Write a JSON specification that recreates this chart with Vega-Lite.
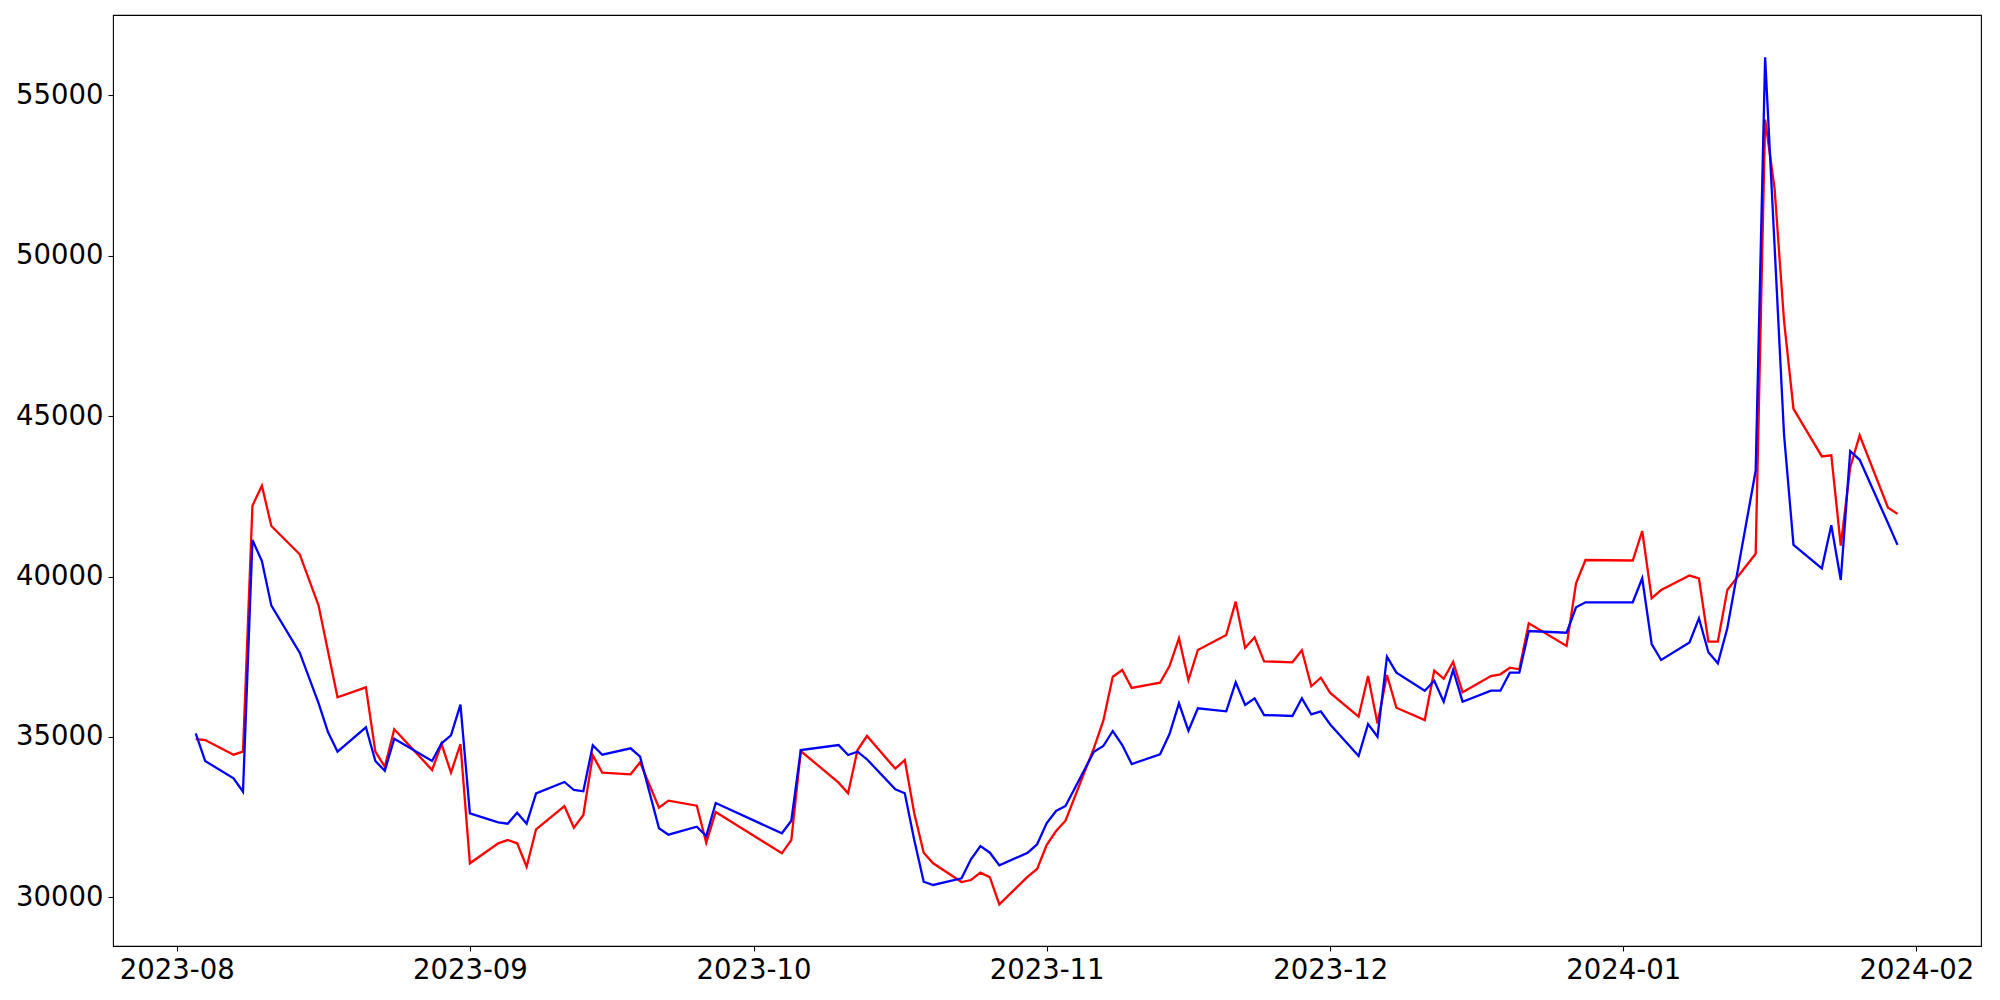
{
  "$schema": "https://vega.github.io/schema/vega-lite/v6.json",
  "width": 1868,
  "height": 931,
  "autosize": "none",
  "padding": {"left": 113, "top": 15, "right": 19, "bottom": 54},
  "background": "white",
  "config": {
    "font": "DejaVu Sans",
    "view": {"stroke": "black", "strokeWidth": 1.1},
    "axis": {"domain": false, "grid": false, "labelFont": "DejaVu Sans", "labelFontSize": 27.5, "labelColor": "black", "tickColor": "black", "tickSize": 5, "tickWidth": 1.1, "labelPadding": 5, "title": null}
  },
  "data": {"values": [
    {"date": "2023-08-03T00:00:00", "red": 34935, "blue": 35113},
    {"date": "2023-08-04T00:00:00", "red": 34904, "blue": 34249},
    {"date": "2023-08-07T00:00:00", "red": 34446, "blue": 33710},
    {"date": "2023-08-08T00:00:00", "red": 34539, "blue": 33292},
    {"date": "2023-08-09T00:00:00", "red": 42209, "blue": 41139},
    {"date": "2023-08-10T00:00:00", "red": 42832, "blue": 40484},
    {"date": "2023-08-11T00:00:00", "red": 41576, "blue": 39091},
    {"date": "2023-08-14T00:00:00", "red": 40693, "blue": 37626},
    {"date": "2023-08-16T00:00:00", "red": 39091, "blue": 36048},
    {"date": "2023-08-17T00:00:00", "red": 37657, "blue": 35144},
    {"date": "2023-08-18T00:00:00", "red": 36235, "blue": 34539},
    {"date": "2023-08-21T00:00:00", "red": 36547, "blue": 35300},
    {"date": "2023-08-22T00:00:00", "red": 34539, "blue": 34249},
    {"date": "2023-08-23T00:00:00", "red": 34072, "blue": 33947},
    {"date": "2023-08-24T00:00:00", "red": 35237, "blue": 34945},
    {"date": "2023-08-28T00:00:00", "red": 33969, "blue": 34249},
    {"date": "2023-08-29T00:00:00", "red": 34779, "blue": 34801},
    {"date": "2023-08-30T00:00:00", "red": 33885, "blue": 35050},
    {"date": "2023-08-31T00:00:00", "red": 34779, "blue": 36005},
    {"date": "2023-09-01T00:00:00", "red": 31060, "blue": 32619},
    {"date": "2023-09-04T00:00:00", "red": 31684, "blue": 32338},
    {"date": "2023-09-05T00:00:00", "red": 31786, "blue": 32295},
    {"date": "2023-09-06T00:00:00", "red": 31684, "blue": 32638},
    {"date": "2023-09-07T00:00:00", "red": 30954, "blue": 32295},
    {"date": "2023-09-08T00:00:00", "red": 32120, "blue": 33242},
    {"date": "2023-09-11T00:00:00", "red": 32846, "blue": 33595},
    {"date": "2023-09-12T00:00:00", "red": 32170, "blue": 33345},
    {"date": "2023-09-13T00:00:00", "red": 32566, "blue": 33305},
    {"date": "2023-09-14T00:00:00", "red": 34427, "blue": 34739},
    {"date": "2023-09-15T00:00:00", "red": 33885, "blue": 34446},
    {"date": "2023-09-18T00:00:00", "red": 33835, "blue": 34645},
    {"date": "2023-09-19T00:00:00", "red": 34209, "blue": 34383},
    {"date": "2023-09-21T00:00:00", "red": 32793, "blue": 32151},
    {"date": "2023-09-22T00:00:00", "red": 33012, "blue": 31952},
    {"date": "2023-09-25T00:00:00", "red": 32856, "blue": 32201},
    {"date": "2023-09-26T00:00:00", "red": 31702, "blue": 31911},
    {"date": "2023-09-27T00:00:00", "red": 32659, "blue": 32940},
    {"date": "2023-10-04T00:00:00", "red": 31372, "blue": 31995},
    {"date": "2023-10-05T00:00:00", "red": 31786, "blue": 32388},
    {"date": "2023-10-06T00:00:00", "red": 34561, "blue": 34592},
    {"date": "2023-10-10T00:00:00", "red": 33573, "blue": 34748},
    {"date": "2023-10-11T00:00:00", "red": 33242, "blue": 34436},
    {"date": "2023-10-12T00:00:00", "red": 34592, "blue": 34539},
    {"date": "2023-10-13T00:00:00", "red": 35029, "blue": 34302},
    {"date": "2023-10-16T00:00:00", "red": 34009, "blue": 33367},
    {"date": "2023-10-17T00:00:00", "red": 34280, "blue": 33242},
    {"date": "2023-10-18T00:00:00", "red": 32619, "blue": 31786},
    {"date": "2023-10-19T00:00:00", "red": 31391, "blue": 30486},
    {"date": "2023-10-20T00:00:00", "red": 31060, "blue": 30384},
    {"date": "2023-10-23T00:00:00", "red": 30477, "blue": 30592},
    {"date": "2023-10-24T00:00:00", "red": 30539, "blue": 31185},
    {"date": "2023-10-25T00:00:00", "red": 30767, "blue": 31599},
    {"date": "2023-10-26T00:00:00", "red": 30624, "blue": 31391},
    {"date": "2023-10-27T00:00:00", "red": 29781, "blue": 30997},
    {"date": "2023-10-30T00:00:00", "red": 30642, "blue": 31391},
    {"date": "2023-10-31T00:00:00", "red": 30882, "blue": 31652},
    {"date": "2023-11-01T00:00:00", "red": 31630, "blue": 32307},
    {"date": "2023-11-02T00:00:00", "red": 32067, "blue": 32690},
    {"date": "2023-11-03T00:00:00", "red": 32388, "blue": 32846},
    {"date": "2023-11-06T00:00:00", "red": 34650, "blue": 34539},
    {"date": "2023-11-07T00:00:00", "red": 35506, "blue": 34717},
    {"date": "2023-11-08T00:00:00", "red": 36877, "blue": 35185},
    {"date": "2023-11-09T00:00:00", "red": 37086, "blue": 34748},
    {"date": "2023-11-10T00:00:00", "red": 36525, "blue": 34156},
    {"date": "2023-11-13T00:00:00", "red": 36690, "blue": 34458},
    {"date": "2023-11-14T00:00:00", "red": 37211, "blue": 35091},
    {"date": "2023-11-15T00:00:00", "red": 38075, "blue": 36048},
    {"date": "2023-11-16T00:00:00", "red": 36775, "blue": 35194},
    {"date": "2023-11-17T00:00:00", "red": 37710, "blue": 35892},
    {"date": "2023-11-20T00:00:00", "red": 38177, "blue": 35799},
    {"date": "2023-11-21T00:00:00", "red": 39216, "blue": 36703},
    {"date": "2023-11-22T00:00:00", "red": 37782, "blue": 35995},
    {"date": "2023-11-23T00:00:00", "red": 38106, "blue": 36204},
    {"date": "2023-11-24T00:00:00", "red": 37357, "blue": 35683},
    {"date": "2023-11-27T00:00:00", "red": 37326, "blue": 35652},
    {"date": "2023-11-28T00:00:00", "red": 37700, "blue": 36204},
    {"date": "2023-11-29T00:00:00", "red": 36580, "blue": 35700},
    {"date": "2023-11-30T00:00:00", "red": 36846, "blue": 35795},
    {"date": "2023-12-01T00:00:00", "red": 36370, "blue": 35390},
    {"date": "2023-12-04T00:00:00", "red": 35630, "blue": 34405},
    {"date": "2023-12-05T00:00:00", "red": 36899, "blue": 35400},
    {"date": "2023-12-06T00:00:00", "red": 35415, "blue": 35007},
    {"date": "2023-12-07T00:00:00", "red": 36930, "blue": 37501},
    {"date": "2023-12-08T00:00:00", "red": 35911, "blue": 37002},
    {"date": "2023-12-11T00:00:00", "red": 35527, "blue": 36441},
    {"date": "2023-12-12T00:00:00", "red": 37065, "blue": 36753},
    {"date": "2023-12-13T00:00:00", "red": 36815, "blue": 36098},
    {"date": "2023-12-14T00:00:00", "red": 37336, "blue": 37086},
    {"date": "2023-12-15T00:00:00", "red": 36391, "blue": 36098},
    {"date": "2023-12-18T00:00:00", "red": 36899, "blue": 36441},
    {"date": "2023-12-19T00:00:00", "red": 36952, "blue": 36441},
    {"date": "2023-12-20T00:00:00", "red": 37158, "blue": 37002},
    {"date": "2023-12-21T00:00:00", "red": 37108, "blue": 37002},
    {"date": "2023-12-22T00:00:00", "red": 38542, "blue": 38302},
    {"date": "2023-12-26T00:00:00", "red": 37835, "blue": 38249},
    {"date": "2023-12-27T00:00:00", "red": 39789, "blue": 39041},
    {"date": "2023-12-28T00:00:00", "red": 40516, "blue": 39197},
    {"date": "2024-01-02T00:00:00", "red": 40500, "blue": 39197},
    {"date": "2024-01-03T00:00:00", "red": 41420, "blue": 39945},
    {"date": "2024-01-04T00:00:00", "red": 39322, "blue": 37897},
    {"date": "2024-01-05T00:00:00", "red": 39580, "blue": 37398},
    {"date": "2024-01-08T00:00:00", "red": 40030, "blue": 37945},
    {"date": "2024-01-09T00:00:00", "red": 39940, "blue": 38698},
    {"date": "2024-01-10T00:00:00", "red": 37969, "blue": 37638},
    {"date": "2024-01-11T00:00:00", "red": 37969, "blue": 37295},
    {"date": "2024-01-12T00:00:00", "red": 39580, "blue": 38386},
    {"date": "2024-01-15T00:00:00", "red": 40710, "blue": 43297},
    {"date": "2024-01-16T00:00:00", "red": 54246, "blue": 56190},
    {"date": "2024-01-17T00:00:00", "red": 52098, "blue": 50300},
    {"date": "2024-01-18T00:00:00", "red": 47967, "blue": 44422},
    {"date": "2024-01-19T00:00:00", "red": 45227, "blue": 40986},
    {"date": "2024-01-22T00:00:00", "red": 43745, "blue": 40257},
    {"date": "2024-01-23T00:00:00", "red": 43779, "blue": 41600},
    {"date": "2024-01-24T00:00:00", "red": 40965, "blue": 39892},
    {"date": "2024-01-25T00:00:00", "red": 43403, "blue": 43908},
    {"date": "2024-01-26T00:00:00", "red": 44400, "blue": 43639},
    {"date": "2024-01-29T00:00:00", "red": 42146, "blue": 41660},
    {"date": "2024-01-30T00:00:00", "red": 41953, "blue": 40986}
  ]},
  "encoding": {
    "x": {
      "field": "date", "type": "temporal",
      "scale": {"domain": [{"year": 2023, "month": "jul", "date": 25, "hours": 6}, {"year": 2024, "month": "feb", "date": 7, "hours": 20}], "nice": false},
      "axis": {"format": "%Y-%m", "values": [
        {"year": 2023, "month": "aug", "date": 1},
        {"year": 2023, "month": "sep", "date": 1},
        {"year": 2023, "month": "oct", "date": 1},
        {"year": 2023, "month": "nov", "date": 1},
        {"year": 2023, "month": "dec", "date": 1},
        {"year": 2024, "month": "jan", "date": 1},
        {"year": 2024, "month": "feb", "date": 1}
      ]}
    }
  },
  "layer": [
    {
      "mark": {"type": "line", "color": "#ff0000", "strokeWidth": 2.3, "clip": true},
      "encoding": {
        "y": {"field": "red", "type": "quantitative", "scale": {"domain": [28482, 57506], "nice": false, "zero": false},
              "axis": {"values": [30000, 35000, 40000, 45000, 50000, 55000], "format": "d"}}
      }
    },
    {
      "mark": {"type": "line", "color": "#0000ff", "strokeWidth": 2.3, "clip": true},
      "encoding": {
        "y": {"field": "blue", "type": "quantitative"}
      }
    }
  ]
}
